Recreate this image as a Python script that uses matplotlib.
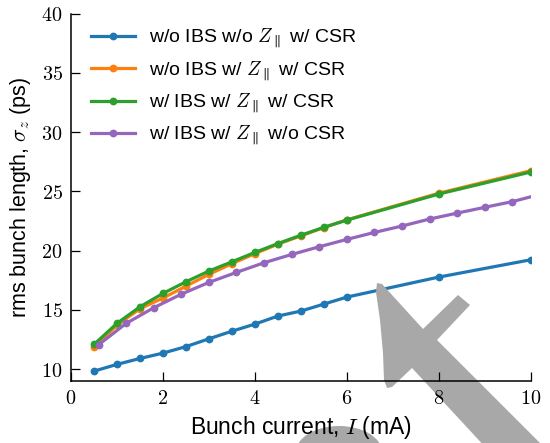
import matplotlib
matplotlib.use('Agg')
import matplotlib.pyplot as plt
import matplotlib.transforms as mtransforms
from matplotlib.patches import Polygon, Ellipse
from matplotlib.ticker import FuncFormatter, MultipleLocator

plt.rcParams['font.family'] = ['Liberation Sans', 'DejaVu Sans']
plt.rcParams['mathtext.fontset'] = 'cm'

# bunch current (mA)
I_main = [0.5, 1.0, 1.5, 2.0, 2.5, 3.0, 3.5, 4.0, 4.5, 5.0, 5.5, 6.0, 8.0, 10.0]
I_csr_off = [0.6, 1.2, 1.8, 2.4, 3.0, 3.6, 4.2, 4.8, 5.4, 6.0, 6.6, 7.2, 7.8, 8.4,
             9.0, 9.6, 10.2]

# rms bunch length (ps)
sz_noibs_noz = [9.83, 10.4, 10.9, 11.35, 11.9, 12.56, 13.2, 13.8, 14.48, 14.9,
                15.49, 16.08, 17.77, 19.23]
sz_noibs_z = [11.85, 13.7, 15.1, 16.0, 17.0, 18.0, 18.9, 19.75, 20.55, 21.25,
              21.95, 22.6, 24.85, 26.75]
sz_ibs_z = [12.08, 13.86, 15.26, 16.39, 17.37, 18.28, 19.06, 19.85, 20.6, 21.3,
            21.97, 22.58, 24.78, 26.64]
sz_ibs_z_nocsr = [12.05, 13.86, 15.18, 16.33, 17.32, 18.17, 18.98, 19.68, 20.33,
                  20.95, 21.54, 22.08, 22.67, 23.17, 23.66, 24.14, 24.75]

labels = [r'w/o IBS w/o $Z_\parallel$ w/ CSR',
          r'w/o IBS w/ $Z_\parallel$ w/ CSR',
          r'w/ IBS w/ $Z_\parallel$ w/ CSR',
          r'w/ IBS w/ $Z_\parallel$ w/o CSR']

fig = plt.figure(figsize=(5.5, 4.43), dpi=100)
ax = fig.add_axes([0.129, 0.140, 0.836, 0.829])

kw = dict(lw=2.3, marker='o', ms=4.6)
ax.plot(I_main, sz_noibs_noz, color='#1f77b4', label=labels[0], **kw)
ax.plot(I_main, sz_noibs_z, color='#ff7f0e', label=labels[1], **kw)
ax.plot(I_main, sz_ibs_z, color='#2ca02c', label=labels[2], **kw)
ax.plot(I_csr_off, sz_ibs_z_nocsr, color='#9467bd', label=labels[3], **kw)

ax.set_xlim(0, 10)
ax.set_ylim(9, 40)
ax.xaxis.set_major_locator(MultipleLocator(2))
ax.yaxis.set_major_locator(MultipleLocator(5))
fmt = FuncFormatter(lambda v, p: r'$%g$' % v)
ax.xaxis.set_major_formatter(fmt)
ax.yaxis.set_major_formatter(fmt)
ax.tick_params(direction='in', length=6.5, width=0.9, labelsize=14.5, pad=6)
for s in ['top', 'right']:
    ax.spines[s].set_visible(False)
for s in ['left', 'bottom']:
    ax.spines[s].set_linewidth(1.1)
ax.set_axisbelow(False)

ax.set_xlabel(r'Bunch current, $I$ (mA)', fontsize=16.5, labelpad=4)
ax.set_ylabel(r'rms bunch length, $\sigma_z$ (ps)', fontsize=15.5, labelpad=6)

ax.legend(loc='upper left', frameon=False, fontsize=14, handlelength=2.27,
          handletextpad=0.76, labelspacing=0.47, borderaxespad=0.3,
          bbox_to_anchor=(0.013, 1.0))

# grey pointer stroke across the lower right, in figure pixels
px = mtransforms.Affine2D().scale(1 / 550, -1 / 443).translate(0, 1) + fig.transFigure
pointer = [(377, 283), (382, 284), (423, 329), (458, 295), (470, 305),
           (437, 340), (560, 463), (500, 463), (412, 368), (392, 387),
           (387, 388), (384, 380), (383, 353), (380, 320), (376, 292)]
ax.add_patch(Polygon(pointer, closed=True, transform=px, facecolor='#a8a8a8',
                     edgecolor='none', clip_on=False, zorder=2.2))
ax.add_patch(Ellipse((339, 452), 86, 52, transform=px, facecolor='#a8a8a8',
                     edgecolor='none', clip_on=False, zorder=2.2))

fig.savefig('out.png', dpi=100)
